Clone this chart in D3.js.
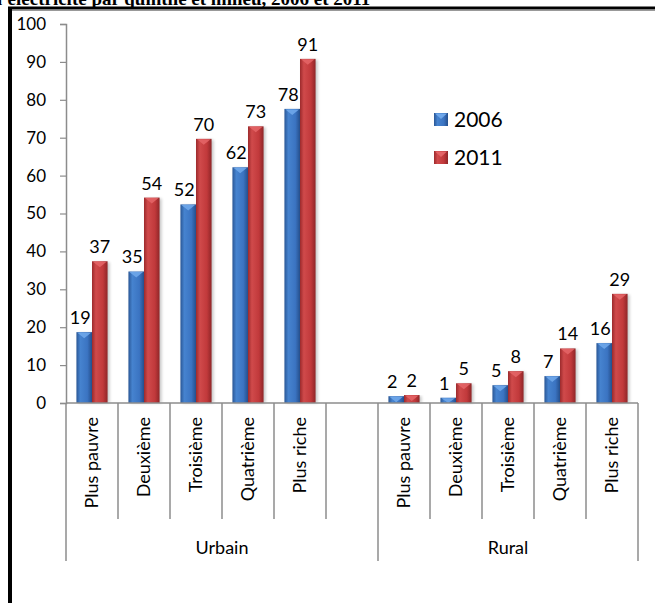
<!DOCTYPE html>
<html>
<head>
<meta charset="utf-8">
<script src="https://cdn.jsdelivr.net/npm/d3@7"></script>
<style>
  body { margin: 0; background: #fff; }
  svg { display: block; }
</style>
</head>
<body>
<div id="chart-area"></div>
<script>
// data
const groups = ["Urbain", "Rural"];
const quintiles = ["Plus pauvre", "Deuxième", "Troisième", "Quatrième", "Plus riche"];
const seriesNames = ["2006", "2011"];
const urbain2006 = [18.7, 34.7, 52.4, 62.2, 77.6];
const urbain2011 = [37.4, 54.2, 69.7, 73.0, 90.8];
const rural2006 = [1.8, 1.4, 4.7, 7.1, 15.8];
const rural2011 = [2.1, 5.2, 8.4, 14.4, 28.8];
const yTicks = [0, 10, 20, 30, 40, 50, 60, 70, 80, 90, 100];

const W = 655, H = 603;
const FONT = "Lato, 'Open Sans', sans-serif";

const svg = d3.select("#chart-area").append("svg")
  .attr("width", W)
  .attr("height", H);

const defs = svg.append("defs");
const grads = {
  "2006": ["#2a5796", "#4683cf", "#3b74c2", "#254f8c"],
  "2011": ["#9c2a2c", "#d04a4b", "#c1393b", "#8f2628"]
};
Object.keys(grads).forEach(k => {
  const g = defs.append("linearGradient").attr("id", "g" + k)
    .attr("x1", "0%").attr("x2", "100%").attr("y1", "0%").attr("y2", "0%");
  [0, 0.25, 0.7, 1].forEach((o, i) => {
    g.append("stop").attr("offset", o).attr("stop-color", grads[k][i]);
  });
});
defs.append("filter").attr("id", "shadow")
  .attr("x", "-50%").attr("y", "-10%").attr("width", "200%").attr("height", "120%")
  .append("feGaussianBlur").attr("stdDeviation", 1.5);

// title (cut at the top, as in the source) and frame
svg.append("text")
  .attr("x", -3)
  .attr("y", 5)
  .attr("font-family", "'Liberation Serif', 'Times New Roman', serif")
  .attr("font-weight", "700")
  .attr("font-size", "19px")
  .text("l'électricité par quintile et milieu, 2006 et 2011");

svg.append("line").attr("x1", 8).attr("x2", W).attr("y1", 8).attr("y2", 8)
  .attr("stroke", "#000").attr("stroke-width", 3);
svg.append("line").attr("x1", 12).attr("x2", W).attr("y1", 10.5).attr("y2", 10.5)
  .attr("stroke", "#999").attr("stroke-width", 1);
svg.append("line").attr("x1", 10).attr("x2", 10).attr("y1", 7).attr("y2", H)
  .attr("stroke", "#000").attr("stroke-width", 4);

// rows
const rows = [];
quintiles.forEach((q, i) => rows.push({ key: "U" + i, group: "Urbain", q, v: [urbain2006[i], urbain2011[i]] }));
rows.push({ key: "gap", group: "Urbain", q: "", v: null });
quintiles.forEach((q, i) => rows.push({ key: "R" + i, group: "Rural", q, v: [rural2006[i], rural2011[i]] }));

const x = d3.scaleBand()
  .domain(rows.map(d => d.key))
  .range([66, 638])
  .padding(0);

const xs = d3.scaleBand()
  .domain(seriesNames)
  .range([0, x.bandwidth()])
  .paddingInner(0)
  .paddingOuter(0.67);

const y = d3.scaleLinear()
  .domain([0, 100])
  .range([403, 24]);

// y axis
const yAxis = svg.append("g")
  .attr("transform", "translate(66,0)")
  .call(d3.axisLeft(y).tickValues(yTicks).tickSize(6).tickPadding(14));
yAxis.select(".domain").attr("stroke", "#8c8c8c").attr("stroke-width", 1.5);
yAxis.selectAll(".tick line").attr("stroke", "#8c8c8c").attr("stroke-width", 1.2);
yAxis.selectAll(".tick text")
  .attr("font-family", FONT).attr("font-size", "17px").attr("fill", "#000");

// bars
const bars = [];
rows.filter(d => d.v).forEach(d => {
  seriesNames.forEach((s, j) => bars.push({ key: d.key, s, v: d.v[j] }));
});

const bg = svg.append("g");
bg.selectAll("rect.shadow").data(bars).enter().append("rect")
  .attr("class", "shadow")
  .attr("x", d => x(d.key) + xs(d.s) + 2)
  .attr("y", d => y(d.v) + 1)
  .attr("width", xs.bandwidth())
  .attr("height", d => y(0) - y(d.v) - 1)
  .attr("fill", "#000")
  .attr("opacity", 0.22)
  .attr("filter", "url(#shadow)");

bg.selectAll("rect.bar").data(bars).enter().append("rect")
  .attr("class", "bar")
  .attr("x", d => x(d.key) + xs(d.s))
  .attr("y", d => y(d.v))
  .attr("width", xs.bandwidth())
  .attr("height", d => y(0) - y(d.v))
  .attr("fill", d => "url(#g" + d.s + ")");

// bevel at top of each bar
bg.selectAll("path.cap").data(bars).enter().append("path")
  .attr("class", "cap")
  .attr("d", d => {
    const x0 = x(d.key) + xs(d.s), w = xs.bandwidth(), t = y(d.v);
    const h = Math.min(6, y(0) - t);
    return `M${x0 + 1},${t + 0.5}L${x0 + w - 1},${t + 0.5}L${x0 + w / 2},${t + h}Z`;
  })
  .attr("fill", d => d.s === "2006" ? "#6fa7ea" : "#e36466")
  .attr("opacity", 0.9);

// value labels
bg.selectAll("text.val").data(bars).enter().append("text")
  .attr("class", "val")
  .attr("x", d => x(d.key) + xs(d.s) + xs.bandwidth() / 2 + (d.s === "2006" ? -4 : 0))
  .attr("y", d => y(d.v) - 8)
  .attr("text-anchor", "middle")
  .attr("font-family", FONT)
  .attr("font-size", "18px")
  .attr("fill", "#000")
  .text(d => Math.round(d.v));

// x axis: baseline, dividers, labels
const ax = svg.append("g");
ax.append("line")
  .attr("x1", x.range()[0]).attr("x2", x.range()[1])
  .attr("y1", y(0)).attr("y2", y(0))
  .attr("stroke", "#8c8c8c").attr("stroke-width", 1.5);

const dividers = [];
rows.forEach((d, i) => {
  const isGroupEdge = i === 0 || rows[i - 1].group !== d.group;
  dividers.push({ x: x(d.key), long: isGroupEdge });
});
dividers.push({ x: x.range()[1], long: true });

ax.selectAll("line.div").data(dividers).enter().append("line")
  .attr("class", "div")
  .attr("x1", d => d.x).attr("x2", d => d.x)
  .attr("y1", y(0)).attr("y2", d => d.long ? 561 : 519)
  .attr("stroke", "#8c8c8c").attr("stroke-width", 1.5);

ax.selectAll("text.cat").data(rows.filter(d => d.q)).enter().append("text")
  .attr("class", "cat")
  .attr("transform", d => `translate(${x(d.key) + x.bandwidth() / 2 + 6},417) rotate(-90)`)
  .attr("text-anchor", "end")
  .attr("font-family", FONT)
  .attr("font-size", "18px")
  .attr("fill", "#000")
  .text(d => d.q);

groups.forEach(gname => {
  const keys = rows.filter(d => d.group === gname).map(d => d.key);
  const x0 = x(keys[0]), x1 = x(keys[keys.length - 1]) + x.bandwidth();
  ax.append("text")
    .attr("x", (x0 + x1) / 2)
    .attr("y", 554)
    .attr("text-anchor", "middle")
    .attr("font-family", FONT)
    .attr("font-size", "18px")
    .attr("fill", "#000")
    .text(gname);
});

// legend
const legend = svg.append("g").attr("transform", "translate(434,113)");
seriesNames.forEach((s, i) => {
  const lg = legend.append("g").attr("transform", `translate(0,${i * 38})`);
  lg.append("rect").attr("width", 14).attr("height", 13)
    .attr("fill", "url(#g" + s + ")");
  lg.append("path").attr("d", "M1,0.5L13,0.5L7,6Z")
    .attr("fill", s === "2006" ? "#6fa7ea" : "#e36466");
  lg.append("text")
    .attr("x", 20).attr("y", 13.5)
    .attr("font-family", FONT)
    .attr("font-size", "21px")
    .attr("fill", "#000")
    .text(s);
});
</script>
</body>
</html>
